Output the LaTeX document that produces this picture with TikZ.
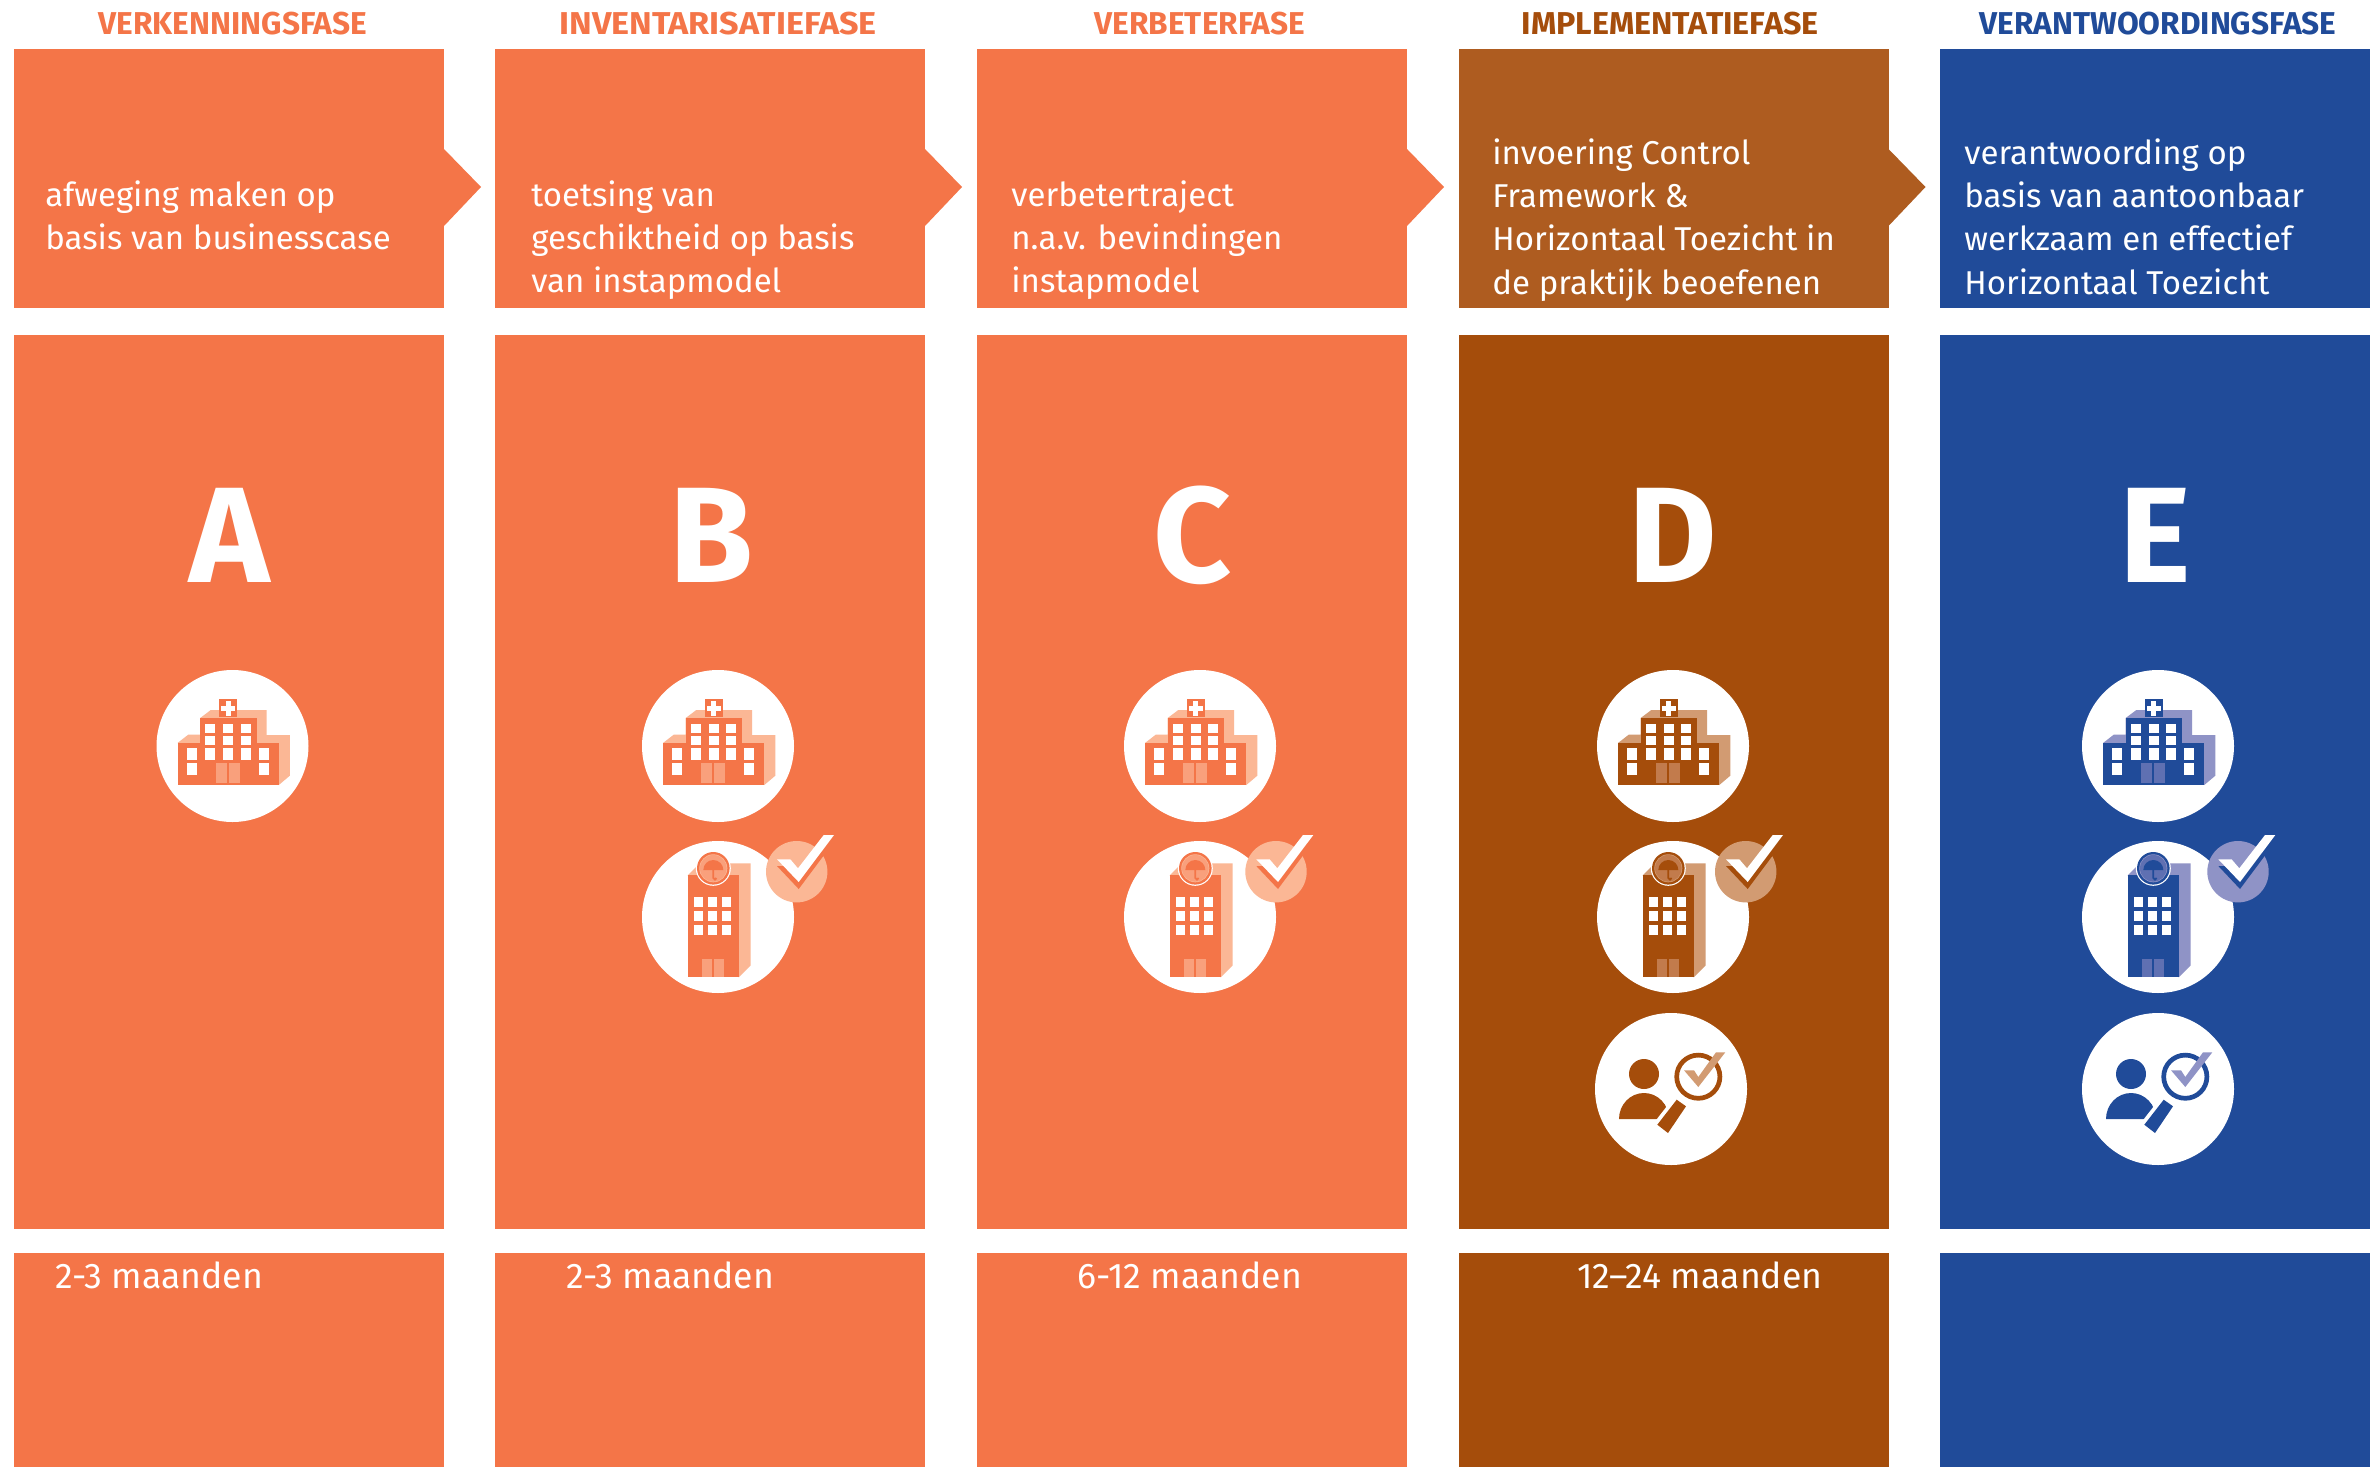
\documentclass[tikz,border=0pt]{standalone}
\usepackage{fontspec}
\setmainfont{Fira Sans}
\usetikzlibrary{positioning}
\definecolor{phaseorange}{HTML}{F47548}
\definecolor{orangelight}{HTML}{FBB795}
\definecolor{orangedoor}{HTML}{F9A07C}
\definecolor{phasebrown}{HTML}{A54D0B}
\definecolor{phasebrowntop}{HTML}{AE5C20}
\definecolor{brownlight}{HTML}{D29B72}
\definecolor{browndoor}{HTML}{C27B4C}
\definecolor{phaseblue}{HTML}{204B99}
\definecolor{bluelight}{HTML}{8F93C6}
\definecolor{bluedoor}{HTML}{5F70B2}
\tikzset{
	phasehead/.style={font=\bfseries\fontsize{15.8}{18}\selectfont, inner sep=0pt},
	phasetext/.style={font=\fontsize{16.5}{21.7}\selectfont, text=white, align=left, anchor=north west, inner sep=0pt},
	phaseletter/.style={font=\bfseries\fontsize{68}{72}\selectfont, text=white, inner sep=0pt},
	timetext/.style={font=\fontsize{17.8}{20}\selectfont, text=white, anchor=west, inner sep=0pt},
}
% #1 centre, #2 base colour, #3 shadow colour, #4 door colour
\newcommand{\hospitalicon}[4]{
	\begin{scope}[shift={(#1)}]
		\fill[white] (0,0) circle (76);
		\fill[#3] (-55,-3) -- (-44.3,-11.3) -- (-32.3,-11.3) -- (-32.3,-28) -- (-21.7,-36) -- (34,-36) -- (34,-11) -- (57.3,-11) -- (57.3,29.7) -- (46.3,39) -- cycle;
		\fill[#2] (-55,-3) rectangle (46.3,39);
		\fill[#2] (-32.3,-28) rectangle (24,-3);
		\fill[#2] (-13.3,-47) rectangle (4.7,-29);
		\fill[white] (-11.3,-40) rectangle (2.7,-35.3);
		\fill[white] (-6.6,-45) rectangle (-2,-30.5);
		\foreach \wx in {-27.3,-9.3,8.3} {
			\fill[white] (\wx,-22) rectangle ++(10,9);
			\fill[white] (\wx,-10) rectangle ++(10,9);
		}
		\foreach \wx in {-45.7,-27.3,-9.3,8.3,26.3}
			\fill[white] (\wx,2) rectangle ++(10,12);
		\foreach \wx in {-45.7,26.3}
			\fill[white] (\wx,17) rectangle ++(10,12);
		\fill[#4] (-16.7,17) rectangle (-5.7,37);
		\fill[#4] (-3.7,17) rectangle (7.3,37);
	\end{scope}
}
% #5 x offset of the check badge
\newcommand{\officeicon}[5]{
	\begin{scope}[shift={(#1)}]
		\fill[white] (0,0) circle (76);
		\fill[#3] (-30.3,-41.7) -- (-18.3,-53.7) -- (32.7,-53.7) -- (32.7,48.3) -- (20.7,60.3) -- cycle;
		\fill[#2] (-30.3,-41.7) rectangle (20.7,60.3);
		\foreach \wx in {-24,-10,4}
			\foreach \wy in {-19.7,-5.7,8.3}
				\fill[white] (\wx,\wy) rectangle ++(9,9.5);
		\fill[#4] (-16,42.3) rectangle ++(9.7,18);
		\fill[#4] (-4,42.3) rectangle ++(9.7,18);
		% seal with umbrella
		\fill[white] (-4.7,-48.7) circle (17.5);
		\fill[#2] (-4.7,-48.7) circle (16.3);
		\fill[#3] (-4.7,-48.7) circle (14);
		\fill[#4] (-4.7,-48.7) circle (13.3);
		\fill[#2] (-14.7,-47) arc[start angle=180, end angle=360, radius=10] -- cycle;
		\draw[#2, line width=0.9pt] (-4.7,-48) -- (-4.7,-39) arc[start angle=180, end angle=0, radius=1.6];
		% check badge
		\begin{scope}[xshift=#5*0.5pt-39.35pt]
			\fill[#3] (78.7,-45.3) circle (30.7);
			\fill[#2] (59,-51) -- (72.3,-51) -- (80,-42) -- (105.7,-75.3) -- (116,-75.3) -- (80.7,-28) -- cycle;
			\fill[white] (59,-57.7) -- (72.3,-57.7) -- (80,-48.7) -- (105.7,-82) -- (116,-82) -- (80.7,-35) -- cycle;
		\end{scope}
	\end{scope}
}
\newcommand{\auditicon}[3]{
	\begin{scope}[shift={(#1)}]
		\fill[white] (0,0) circle (76);
		\fill[#2] (-27,-15) circle (15);
		\fill[#2] (-52,30) arc[start angle=180, end angle=360, x radius=25, y radius=26] -- cycle;
		\fill[white] (3,8) -- (17,17) -- (-2,47) -- (-18,35) -- cycle;
		\fill[#2] (5.7,10.7) -- (15,17.3) -- (-3,44) -- (-13.7,35.7) -- cycle;
		\draw[#2, line width=2.35pt, fill=white] (27.3,-12.3) circle (21.6);
		\fill[#3] (13,-18.7) -- (23,-18.7) -- (27.3,-12) -- (45,-36.7) -- (54.3,-36.7) -- (27.3,-2) -- cycle;
	\end{scope}
}
\begin{document}
\begin{tikzpicture}[x=0.5pt,y=-0.5pt]
	\useasboundingbox (0,0) rectangle (2378,1467);
	\fill[white] (0,0) rectangle (2378,1467);

	% column boxes: left edge / colours
	\foreach \bx/\cmain/\ctop in {14/phaseorange/phaseorange,495/phaseorange/phaseorange,977/phaseorange/phaseorange,1458.5/phasebrown/phasebrowntop,1940/phaseblue/phaseblue} {
		\fill[\ctop] (\bx,49) rectangle ++(430,259);
		\fill[\cmain] (\bx,335) rectangle ++(430,894);
		\fill[\cmain] (\bx,1253) rectangle ++(430,214);
	}
	% arrows
	\foreach \bx/\ctop in {444/phaseorange,925/phaseorange,1407/phaseorange,1888.5/phasebrowntop}
		\fill[\ctop] (\bx,149) -- ++(37,38) -- (\bx,226) -- cycle;

	% headers
	\node[phasehead, text=phaseorange] (headA) at (233,24) {VERKENNINGSFASE};
	\node[phasehead, text=phaseorange, transform shape, xscale=1.08] (headB) at (718,24) {INVENTARISATIEFASE};
	\node[phasehead, text=phaseorange] (headC) at (1200,24) {VERBETERFASE};
	\node[phasehead, text=phasebrown, transform shape, xscale=1.02] (headD) at (1670,24) {IMPLEMENTATIEFASE};
	\node[phasehead, text=phaseblue] (headE) at (2158,24) {VERANTWOORDINGSFASE};

	% descriptions
	\node[phasetext] (textA) at (45,180) {afweging maken op\\basis van businesscase};
	\node[phasetext] (textB) at (531,180) {toetsing van\\geschiktheid op basis\\van instapmodel};
	\node[phasetext] (textC) at (1011,180) {verbetertraject\\n.a.v. bevindingen\\instapmodel};
	\node[phasetext] (textD) at (1492,138) {invoering Control\\Framework \&\\Horizontaal Toezicht in\\de praktijk beoefenen};
	\node[phasetext] (textE) at (1964,138) {verantwoording op\\basis van aantoonbaar\\werkzaam en effectief\\Horizontaal Toezicht};

	% letters
	\node[phaseletter] (letterA) at (230,535) {A};
	\node[phaseletter] (letterB) at (711,535) {B};
	\node[phaseletter] (letterC) at (1193,535) {C};
	\node[phaseletter] (letterD) at (1673,535) {D};
	\node[phaseletter] (letterE) at (2155,535) {E};

	% icons
	\hospitalicon{232.5,746}{phaseorange}{orangelight}{orangedoor}
	\hospitalicon{718,746}{phaseorange}{orangelight}{orangedoor}
	\hospitalicon{1200,746}{phaseorange}{orangelight}{orangedoor}
	\hospitalicon{1673,746}{phasebrown}{brownlight}{browndoor}
	\hospitalicon{2158,746}{phaseblue}{bluelight}{bluedoor}

	\officeicon{718,917}{phaseorange}{orangelight}{orangedoor}{78.7}
	\officeicon{1200,917}{phaseorange}{orangelight}{orangedoor}{76}
	\officeicon{1673,917}{phasebrown}{brownlight}{browndoor}{72.7}
	\officeicon{2158,917}{phaseblue}{bluelight}{bluedoor}{80}

	\auditicon{1671,1089}{phasebrown}{brownlight}
	\auditicon{2158,1089}{phaseblue}{bluelight}

	% durations
	\node[timetext] (timeA) at (55,1275) {2-3 maanden};
	\node[timetext] (timeB) at (566,1275) {2-3 maanden};
	\node[timetext] (timeC) at (1077,1275) {6-12 maanden};
	\node[timetext] (timeD) at (1577,1275) {12--24 maanden};
\end{tikzpicture}
\end{document}
